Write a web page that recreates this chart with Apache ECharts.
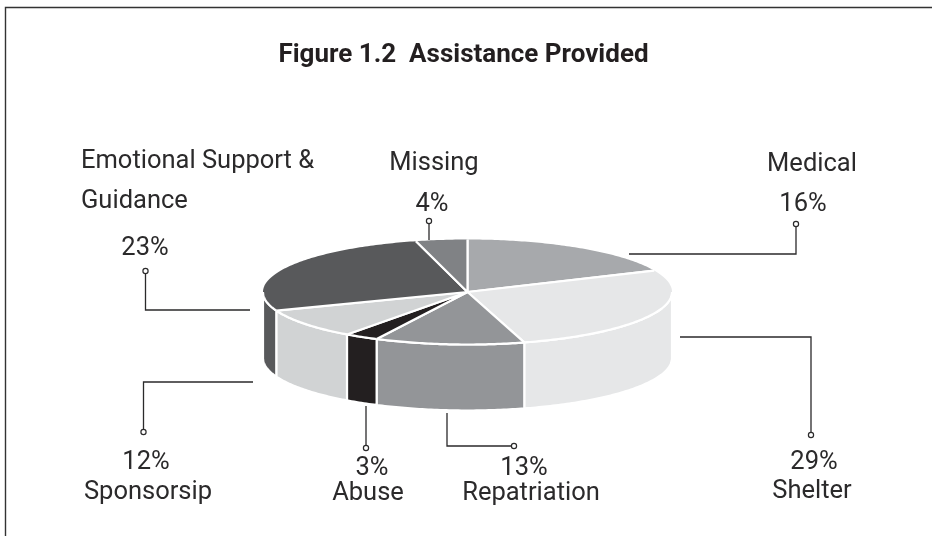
<!DOCTYPE html>
<html>
<head>
<meta charset="utf-8">
<style>html,body{margin:0;padding:0;background:#fff}#c{width:932px;height:536px}</style>
<script src="https://cdn.jsdelivr.net/npm/echarts@6/dist/echarts.min.js"></script>
</head>
<body>
<div id="c"></div>
<script>
// Data, clockwise from 12 o'clock.
const categories = ['Medical', 'Shelter', 'Repatriation', 'Abuse', 'Sponsorsip', 'Emotional Support & Guidance', 'Missing'];
// The percentages printed beside each slice.
const printedPercent = [16, 29, 13, 3, 12, 23, 4];
// The share of the circle each slice actually occupies in the drawing (it differs a little from the printed figure).
const drawnShare = [18.3, 27.2, 11.8, 2.7, 9.2, 26.7, 4.05];
const sliceColors = ['#a7a9ac', '#e6e7e8', '#939598', '#231f20', '#d1d3d4', '#58595b', '#808285'];

const INK = '#2b2a2b';
const FONT = 'Roboto, "Noto Sans", sans-serif';
const PIE = { cx: 467.5, cy: 292, rx: 204.5, ry: 52.5, depth: 66 };

const total = drawnShare.reduce((a, b) => a + b, 0);
const starts = [];
drawnShare.reduce((acc, v, i) => { starts[i] = acc; return acc + v; }, 0);

const toAngle = v => v / total * 2 * Math.PI;
const pt = (a, dy) => [PIE.cx + PIE.rx * Math.sin(a), PIE.cy - PIE.ry * Math.cos(a) + (dy || 0)];
function arcPoints(a0, a1, dy) {
  const n = Math.max(2, Math.ceil((a1 - a0) / 0.015));
  const out = [];
  for (let i = 0; i <= n; i++) out.push(pt(a0 + (a1 - a0) * i / n, dy));
  return out;
}

function renderSlice(params, api) {
  const start = toAngle(api.value(1));
  const end = start + toAngle(api.value(2));
  const color = sliceColors[params.dataIndex];
  const stroke = { stroke: '#fff', lineWidth: 2.2, lineJoin: 'round' };
  const children = [];
  // side wall: only the part of the rim facing the viewer
  const w0 = Math.max(start, Math.PI / 2), w1 = Math.min(end, Math.PI * 3 / 2);
  if (w1 > w0) {
    children.push({
      type: 'polygon',
      shape: { points: arcPoints(w0, w1, 0).concat(arcPoints(w0, w1, PIE.depth).reverse()) },
      style: Object.assign({ fill: color }, stroke)
    });
  }
  // top face, without a white edge along the back of the rim
  const face = [[PIE.cx, PIE.cy]].concat(arcPoints(start, end, 0));
  children.push({ type: 'polygon', shape: { points: face }, style: { fill: color } });
  // white edges: the two radii, and the front of the rim
  children.push({ type: 'polyline', shape: { points: [pt(start), [PIE.cx, PIE.cy], pt(end)] }, style: Object.assign({ fill: null }, stroke) });
  if (w1 > w0) {
    children.push({ type: 'polyline', shape: { points: arcPoints(w0, w1, 0) }, style: Object.assign({ fill: null }, stroke) });
  }
  return { type: 'group', children };
}

// Leader lines and text placement (annotation layout only).
const leaders = [
  [[629, 254], [796, 254], [796, 224]],
  [[680, 337], [811, 337], [811, 435]],
  [[447, 413], [447, 446], [514, 446]],
  [[366, 406], [366, 448]],
  [[253, 382], [143.5, 382], [143.5, 432]],
  [[250, 310], [145.5, 310], [145.5, 271]],
  [[429, 240], [429, 221]]
];
const textSlots = [
  { name: [['Medical', 812, 165]], pct: [803, 205] },
  { name: [['Shelter', 812, 492]], pct: [814, 463] },
  { name: [['Repatriation', 531, 494]], pct: [524, 469] },
  { name: [['Abuse', 368, 494]], pct: [372, 469] },
  { name: [['Sponsorsip', 148, 493]], pct: [146, 463] },
  { name: [['Emotional Support &', 81, 162, 'left'], ['Guidance', 81, 202, 'left']], pct: [145, 249] },
  { name: [['Missing', 434, 164]], pct: [432, 205] }
];

const graphics = [
  { type: 'polyline', shape: { points: [[5.5, 536], [5.5, 7.5], [932, 7.5]] }, style: { fill: null, stroke: '#333', lineWidth: 1.4 }, silent: true }
];
leaders.forEach(p => {
  graphics.push({ type: 'polyline', shape: { points: p }, style: { fill: null, stroke: INK, lineWidth: 1.3 }, silent: true });
  const e = p[p.length - 1];
  graphics.push({ type: 'circle', shape: { cx: e[0], cy: e[1], r: 2.6 }, style: { fill: '#fff', stroke: INK, lineWidth: 1.2 }, silent: true });
});
textSlots.forEach((t, i) => {
  const lbl = (s, x, y, align) => graphics.push({
    type: 'text', x, y, silent: true,
    style: { text: s, fill: INK, font: '400 25.5px ' + FONT, textAlign: align || 'center', textVerticalAlign: 'middle' }
  });
  t.name.forEach(n => lbl(n[0], n[1], n[2], n[3]));
  lbl(printedPercent[i] + '%', t.pct[0], t.pct[1]);
});

const chart = echarts.init(document.getElementById('c'), null, { renderer: 'canvas' });
chart.setOption({
  animation: false,
  backgroundColor: '#fff',
  title: {
    text: 'Figure 1.2  Assistance Provided',
    left: 458.5, top: 50, textAlign: 'center', textVerticalAlign: 'middle',
    textStyle: { color: '#231f20', fontFamily: FONT, fontWeight: 'bold', fontSize: 26 }
  },
  graphic: graphics,
  series: [{
    type: 'custom',
    coordinateSystem: 'none',
    renderItem: renderSlice,
    silent: true,
    // painted back to front so that the front walls overlap correctly
    data: categories.map((c, i) => ({ name: c, value: [printedPercent[i], starts[i], drawnShare[i]] }))
  }]
});
</script>
</body>
</html>
